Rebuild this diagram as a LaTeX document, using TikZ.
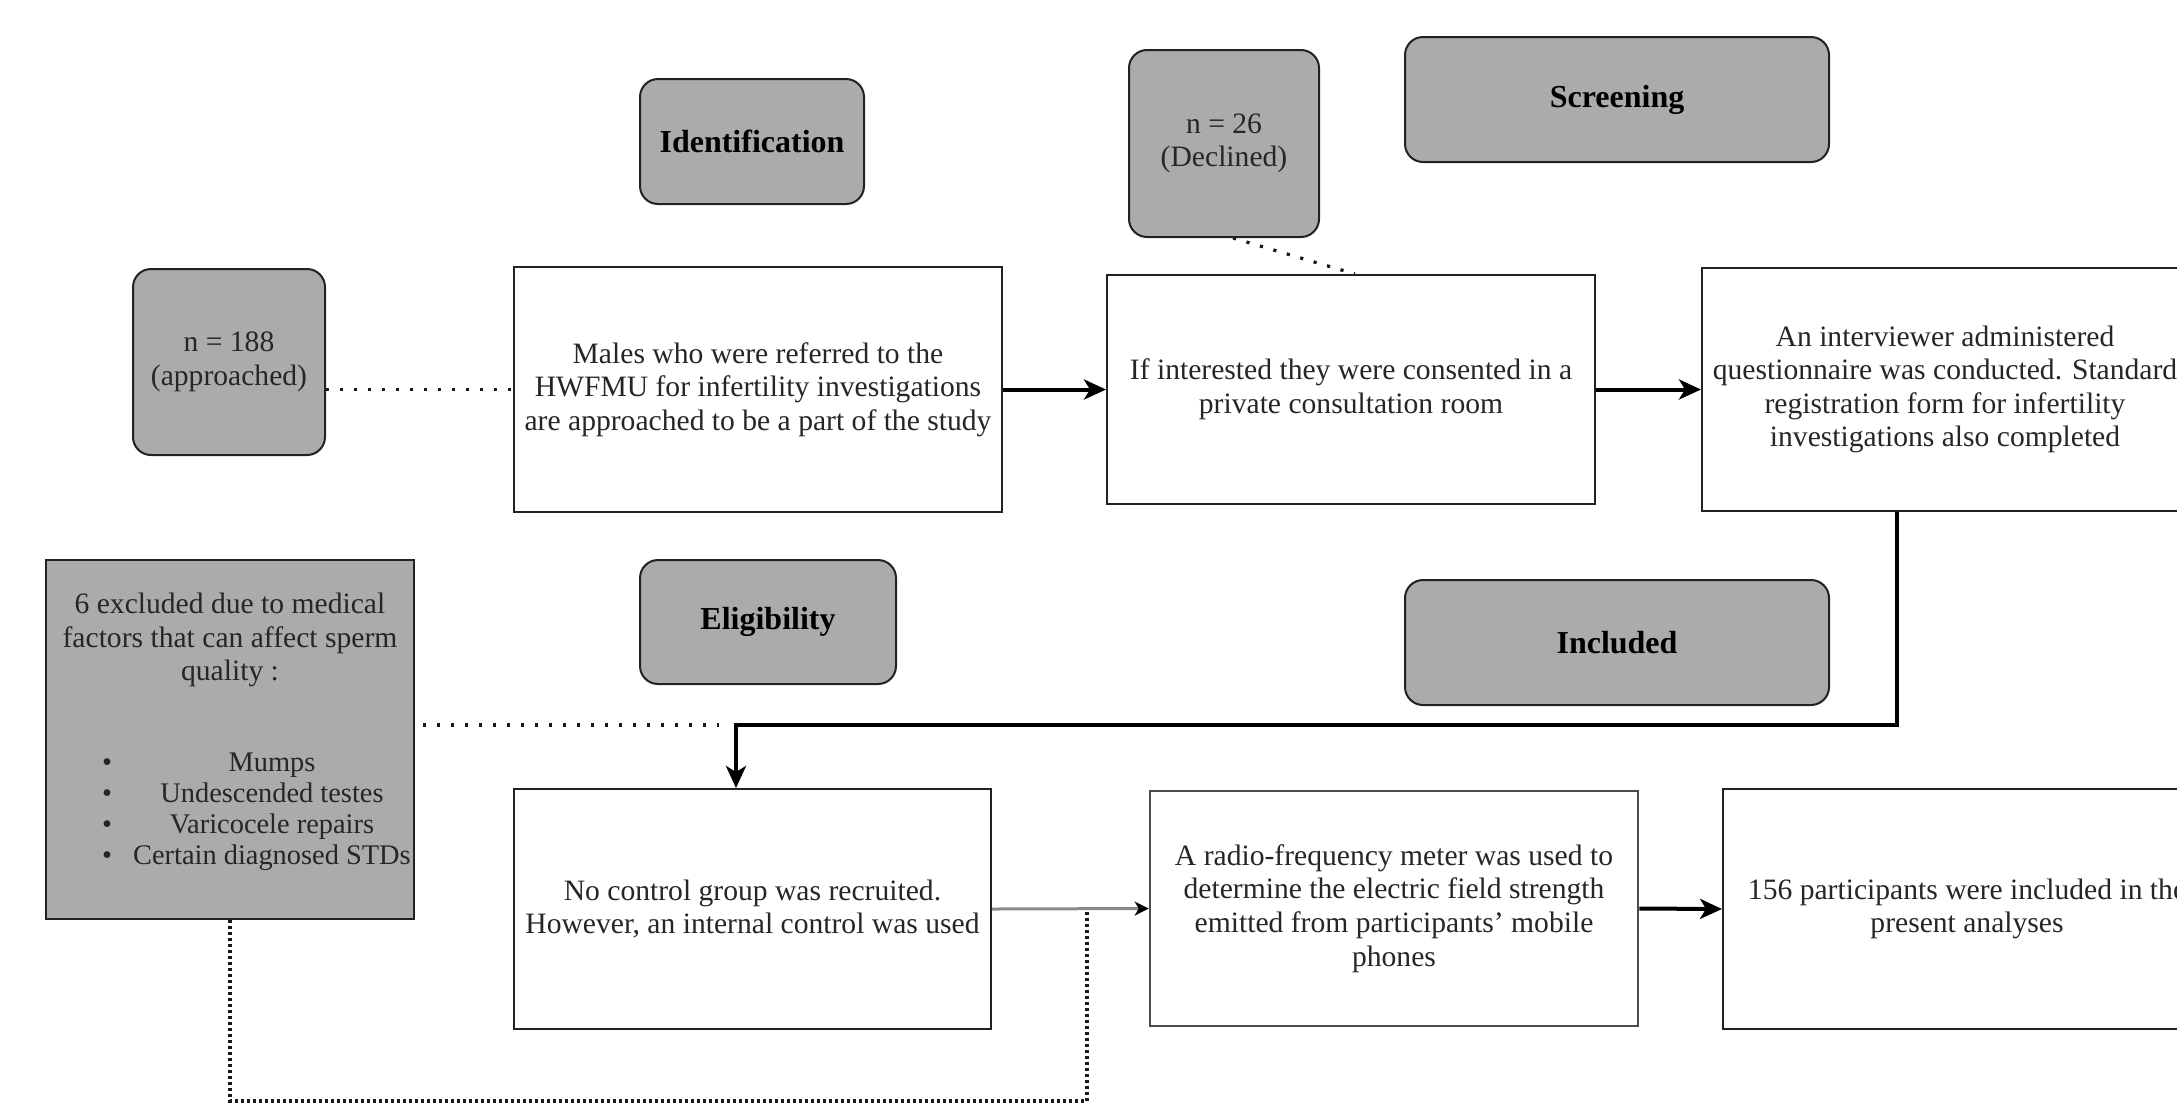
\documentclass[tikz,border=0pt]{standalone}
\usepackage{fontspec}
\setmainfont{Liberation Serif}
\usetikzlibrary{arrows.meta,calc}
\definecolor{boxgray}{HTML}{ABABAB}
\definecolor{edgecol}{HTML}{222222}
\definecolor{thinline}{HTML}{8A8A8A}
\begin{document}
\begin{tikzpicture}[x=0.5pt,y=-0.5pt,
  every node/.style={font=\fontsize{14.8}{16.8}\selectfont, text=black!85},
  wbox/.style={draw=edgecol, line width=1pt, fill=white, align=center, inner sep=1pt},
  gbox/.style={draw=edgecol, line width=1pt, fill=boxgray, rounded corners=9pt, align=center, inner sep=1pt},
  stagelabel/.style={gbox, font=\fontsize{16}{18}\selectfont\bfseries, text=black},
  sqgray/.style={draw=edgecol, line width=1pt, fill=boxgray, inner sep=0pt},
  plain/.style={align=center, inner sep=0pt},
  mainarrow/.style={line width=2pt, draw=black, -{Stealth[length=11pt,width=10pt,inset=3pt]}},
  thinarrow/.style={line width=1.5pt, draw=thinline, -{Stealth[length=7pt,width=7pt,inset=2pt,color=black]}},
  dotlink/.style={line width=1.6pt, draw=black!90, dash pattern=on 1.6pt off 5.4pt},
  fineloop/.style={line width=1.6pt, draw=black!90, dash pattern=on 1.5pt off 1.5pt}
]
\useasboundingbox (0,0) rectangle (2177,1105);

% stage labels
\node[stagelabel, minimum width=112pt, minimum height=62.5pt] (ident) at (752,141.5) {Identification};
\node[stagelabel, minimum width=212pt, minimum height=62.5pt] (screen) at (1617,99.5) {Screening};
\node[stagelabel, minimum width=128pt, minimum height=62pt] (elig) at (768,622) {Eligibility};
\node[stagelabel, minimum width=212pt, minimum height=62.5pt] (incl) at (1617,642.5) {Included};

% count boxes
\node[gbox, minimum width=96pt, minimum height=93pt] (n188) at (229,362) {n = 188\\(approached)};
\node[gbox, minimum width=95pt, minimum height=93.5pt] (n26) at (1224,143.5) {n = 26\\(Declined)};

% process boxes
\node[wbox, minimum width=244pt, minimum height=122.5pt] (males) at (758,389.5)
  {Males who were referred to the\\HWFMU for infertility investigations\\are approached to be a part of the study};
\node[wbox, minimum width=244pt, minimum height=114.5pt] (consent) at (1351,389.5)
  {If interested they were consented in a\\private consultation room};
\node[wbox, minimum width=243pt, minimum height=121.5pt] (interview) at (1945,389.5)
  {An interviewer administered\\questionnaire was conducted. Standard\\registration form for infertility\\investigations also completed};
\node[wbox, minimum width=238.5pt, minimum height=120pt] (nocontrol) at (752.5,909)
  {No control group was recruited.\\However, an internal control was used};
\node[wbox, draw=black!70, line width=1.3pt, minimum width=244pt, minimum height=117.5pt] (radio) at (1394,908.5)
  {A radio-frequency meter was used to\\determine the electric field strength\\emitted from participants’ mobile\\phones};
\node[wbox, minimum width=244pt, minimum height=120pt] (final) at (1967,909)
  {156 participants were included in the\\present analyses};

% exclusion box
\node[sqgray, minimum width=184pt, minimum height=179.5pt] (excl) at (230,739.5) {};
\node[plain] (exhead) at (230,640) {6 excluded due to medical\\factors that can affect sperm\\quality :};
\node[plain, font=\fontsize{14.2}{16.5}\selectfont] (exlist) at (257,812) {\renewcommand{\arraystretch}{0.94}%
  \begin{tabular}{@{}c@{\hspace{10pt}}c@{}}
  \textbullet & \makebox[140pt]{Mumps}\\
  \textbullet & \makebox[140pt]{Undescended testes}\\
  \textbullet & \makebox[140pt]{Varicocele repairs}\\
  \textbullet & \makebox[140pt]{Certain diagnosed STDs}
  \end{tabular}};

% helper coordinates
\coordinate (c1) at ($(interview.south)+(-48,0)$);
\coordinate (c2) at ($(nocontrol.north)+(-16.5,0)$);
\coordinate (k) at (736,725);
\coordinate (m) at (1087,909);
\coordinate (d1) at ($(n26.south)+(9,0)$);

% connectors
\draw[dotlink] (n188.east |- males.west) -- (males.west);
\draw[mainarrow] (males.east) -- (consent.west);
\draw[mainarrow] (consent.east) -- (interview.west);
\draw[dotlink] (d1) -- ($(consent.north)+(4,0)$);
\draw[mainarrow] (c1) |- (k) -- (c2);
\draw[dotlink] ($(excl.east |- k)+(8,0)$) -- ($(k)+(-17,0)$);
\draw[thinarrow] (nocontrol.east) -- (radio.west);
\draw[fineloop] (excl.south) -- (excl.south |- 0,1101) -| (m);
\draw[mainarrow] (radio.east) -- (final.west);
\end{tikzpicture}
\end{document}
